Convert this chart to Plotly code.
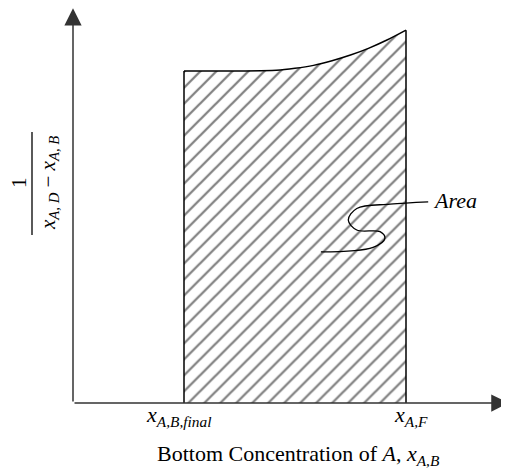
import plotly.graph_objects as go

# ---- data (abstract units) ----
x_final = 0.30          # x_{A,B,final}
x_feed = 0.90           # x_{A,F}
curve_x = [0.30, 0.45, 0.55, 0.60, 0.65, 0.70, 0.75, 0.80, 0.85, 0.90]
curve_y = [1.000, 1.000, 1.002, 1.008, 1.017, 1.031, 1.048, 1.069, 1.094, 1.123]
x_tick_vals = [x_final, x_feed]
x_tick_text = ["<i>x</i><sub><i>A,B,final</i></sub>", "<i>x</i><sub><i>A,F</i></sub>"]
x_tick_shift = [-6, 5]
leader_x = [0.960, 0.857, 0.767, 0.744, 0.767, 0.830, 0.843, 0.811, 0.670]
leader_y = [0.606, 0.599, 0.586, 0.551, 0.521, 0.516, 0.496, 0.469, 0.455]
x_axis_end = 1.177
y_axis_end = 1.189

FONT = "Liberation Serif, Times New Roman, serif"
AX = "#333333"
W, H = 501, 462   # page body has an 8px margin


def px(xp):
    return (xp - 8) / W


def py(yp):
    return 1 - (yp - 8) / H


fig = go.Figure()

# hatched area under the curve (spline top)
fig.add_trace(go.Scatter(
    x=curve_x, y=curve_y, mode="lines", fill="tozeroy",
    line=dict(color="black", width=1.5, shape="spline", smoothing=0.8),
    fillcolor="white",
    fillpattern=dict(shape="/", size=11.3, solidity=0.2, fgcolor="black", bgcolor="white"),
    hoverinfo="skip", showlegend=False,
))
# vertical edges
for xe, ye in [(x_final, curve_y[0]), (x_feed, curve_y[-1])]:
    fig.add_trace(go.Scatter(
        x=[xe, xe], y=[0, ye], mode="lines",
        line=dict(color="black", width=1.5),
        hoverinfo="skip", showlegend=False,
    ))
# leader line for "Area"
fig.add_trace(go.Scatter(
    x=leader_x, y=leader_y, mode="lines",
    line=dict(color="black", width=1.3, shape="spline", smoothing=1.0),
    hoverinfo="skip", showlegend=False,
))

annotations = []
# axes with arrows
for (tx, ty) in [(0, y_axis_end), (x_axis_end, 0)]:
    annotations.append(dict(x=tx, y=ty, ax=0, ay=0, xref="x", yref="y", axref="x", ayref="y",
                            text="", showarrow=True, arrowhead=2, arrowsize=2.3, arrowwidth=1.5,
                            arrowcolor=AX, standoff=0))
# tick labels
for xv, tt, sh in zip(x_tick_vals, x_tick_text, x_tick_shift):
    annotations.append(dict(x=xv, y=0, xref="x", yref="y", text=tt, showarrow=False,
                            xanchor="center", yanchor="top", yshift=3, xshift=sh,
                            font=dict(family=FONT, size=22, color="black")))
# x title
annotations.append(dict(x=px(298), y=py(455), xref="paper", yref="paper",
                        xanchor="center", yanchor="middle",
                        text="Bottom Concentration of <i>A</i>, <i>x</i><sub><i>A,B</i></sub>",
                        showarrow=False, font=dict(family=FONT, size=22, color="black")))
# Area label
annotations.append(dict(x=leader_x[0], y=leader_y[0], xref="x", yref="y", text="<i>Area</i>",
                        showarrow=False, xanchor="left", yanchor="middle", xshift=3, yshift=1,
                        font=dict(family=FONT, size=22, color="black")))
# y title as fraction
annotations.append(dict(x=px(19), y=py(183), xref="paper", yref="paper", text="1",
                        xanchor="center", yanchor="middle",
                        textangle=-90, showarrow=False, font=dict(family=FONT, size=21, color="black")))
annotations.append(dict(x=px(49), y=py(183), xref="paper", yref="paper",
                        xanchor="center", yanchor="middle",
                        text="<i>x</i><sub><i>A, D</i></sub> \u2212 <i>x</i><sub><i>A, B</i></sub>",
                        textangle=-90, showarrow=False, font=dict(family=FONT, size=21, color="black")))

fig.update_layout(
    width=W, height=H,
    margin=dict(l=0, r=0, t=0, b=0),
    paper_bgcolor="white", plot_bgcolor="white",
    xaxis=dict(range=[-65/370, 436/370], visible=False, fixedrange=True),
    yaxis=dict(range=[-67/332, 395/332], visible=False, fixedrange=True),
    annotations=annotations,
    shapes=[dict(type="line", xref="paper", yref="paper", x0=px(32), x1=px(32),
                 y0=py(132), y1=py(235), line=dict(color="black", width=1.3))],
)

fig.write_html("out.html")
